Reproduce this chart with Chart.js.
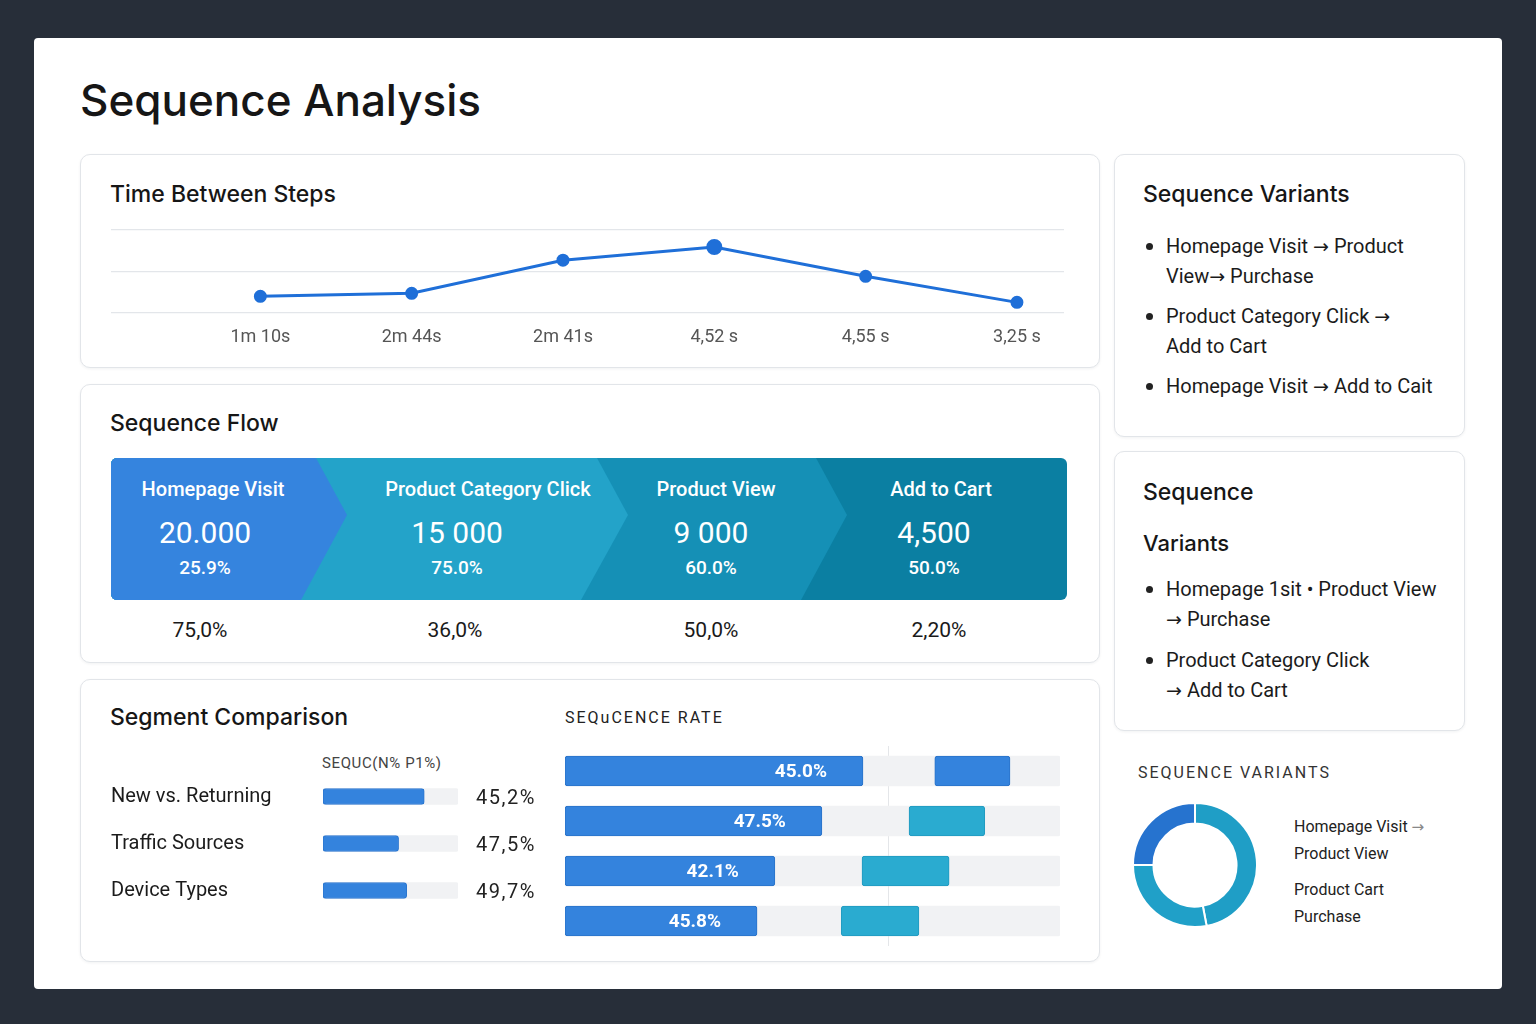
<!DOCTYPE html>
<html>
<head>
<meta charset="utf-8">
<title>Sequence Analysis</title>
<script src="https://cdn.jsdelivr.net/npm/chart.js@4.4.1/dist/chart.umd.min.js"></script>
<style>
  body { margin: 0; width: 1536px; height: 1024px; background: #272e39; position: relative; overflow: hidden;
         font-family: Roboto, "Noto Sans", sans-serif; color: #1b1b1b; }
  .abs { position: absolute; }
  .card { left: 34px; top: 38px; width: 1468px; height: 951px; background: #fff; border-radius: 4px; }
  .panel { background: #fff; border: 1px solid #e2e5e9; border-radius: 10px; box-sizing: border-box;
           box-shadow: 0 1px 3px rgba(20, 30, 50, 0.06); }
  .h { font-family: Inter, sans-serif; font-weight: 500; white-space: nowrap; color: #161616; }
  .caps { white-space: nowrap; letter-spacing: 2px; }
  .ar { font-family: "DejaVu Sans", sans-serif; font-size: 0.95em; line-height: 10px; }
  ul.list { list-style: none; margin: 0; padding: 0; font-size: 20px; line-height: 30px; color: #1b1b1b; }
  ul.list li { position: relative; padding-left: 23px; }
  ul.list li::before { content: ""; position: absolute; left: 3px; top: 12px; width: 7px; height: 7px;
                       border-radius: 50%; background: #222; }
  .flow { left: 111px; top: 458px; width: 956px; height: 142px; border-radius: 6px; overflow: hidden; }
  .blk { position: absolute; left: 0; top: 0; width: 100%; height: 100%; }
  .ftxt { position: absolute; transform: translateX(-50%); white-space: nowrap; color: #fff; font-weight: 500; text-align: center; }
  .conv { position: absolute; transform: translateX(-50%); white-space: nowrap; font-size: 21px; line-height: 26px; color: #1a1a1a; }
</style>
</head>
<body>
<div class="abs card"></div>
<div class="abs h" style="left:80px;top:74px;font-size:44px;line-height:52px;">Sequence Analysis</div>

<div class="abs panel" style="left:80px;top:154px;width:1020px;height:214px;"></div>
<div class="abs panel" style="left:80px;top:384px;width:1020px;height:279px;"></div>
<div class="abs panel" style="left:80px;top:679px;width:1020px;height:283px;"></div>
<div class="abs panel" style="left:1114px;top:154px;width:351px;height:283px;"></div>
<div class="abs panel" style="left:1114px;top:451px;width:351px;height:280px;"></div>

<div class="abs h" style="left:110px;top:180px;font-size:23px;line-height:28px;">Time Between Steps</div>
<div class="abs" style="left:111px;top:222px;"><canvas id="timeChart" width="953" height="140"></canvas></div>

<div class="abs h" style="left:110px;top:409px;font-size:23px;line-height:28px;">Sequence Flow</div>
<div class="abs flow" id="flow"></div>

<div class="abs h" style="left:110px;top:703px;font-size:23px;line-height:28px;">Segment Comparison</div>
<div class="abs caps" style="left:322px;top:754px;font-size:15px;line-height:18px;color:#444;letter-spacing:0.6px;">SEQUC(N% P1%)</div>
<div class="abs" style="left:111px;top:758px;"><canvas id="segChart" width="434" height="171"></canvas></div>

<div class="abs caps" style="left:565px;top:708px;font-size:16px;line-height:20px;color:#222;">SEQuCENCE RATE</div>
<div class="abs" style="left:565px;top:746px;"><canvas id="rateChart" width="495" height="200"></canvas></div>

<div class="abs h" style="left:1143px;top:180px;font-size:23px;line-height:28px;">Sequence Variants</div>
<ul class="abs list" style="left:1143px;top:231px;">
  <li>Homepage Visit <span class="ar">→</span> Product<br>View<span class="ar">→</span> Purchase</li>
  <li style="margin-top:10px;">Product Category Click <span class="ar">→</span><br>Add to Cart</li>
  <li style="margin-top:10px;">Homepage Visit <span class="ar">→</span> Add to Cait</li>
</ul>

<div class="abs h" style="left:1143px;top:478px;font-size:23px;line-height:28px;">Sequence</div>
<div class="abs h" style="left:1143px;top:530px;font-size:22px;line-height:26px;">Variants</div>
<ul class="abs list" style="left:1143px;top:574px;">
  <li>Homepage 1sit • Product View<br><span class="ar">→</span> Purchase</li>
  <li style="margin-top:11px;">Product Category Click<br><span class="ar">→</span> Add to Cart</li>
</ul>

<div class="abs caps" style="left:1138px;top:763px;font-size:16px;line-height:20px;color:#333;">SEQUENCE VARIANTS</div>
<div class="abs" style="left:1132px;top:802px;"><canvas id="donutChart" width="126" height="126"></canvas></div>
<div class="abs" style="left:1294px;top:813px;font-size:16px;line-height:27px;color:#222;white-space:nowrap;">
  Homepage Visit <span class="ar" style="color:#888">→</span><br>Product View
  <div style="margin-top:9px;">Product Cart<br>Purchase</div>
</div>

<script>
// values
const stepLabels = ["1m 10s", "2m 44s", "2m 41s", "4,52 s", "4,55 s", "3,25 s"];
const stepTimes = [1.17, 1.39, 3.80, 4.76, 2.63, 0.73];

const flowSteps = ["Homepage Visit", "Product Category Click", "Product View", "Add to Cart"];
const flowCounts = ["20.000", "15 000", "9 000", "4,500"];
const flowShares = ["25.9%", "75.0%", "60.0%", "50.0%"];
const flowConversions = ["75,0%", "36,0%", "50,0%", "2,20%"];

const segmentNames = ["New vs. Returning", "Traffic Sources", "Device Types"];
const segmentFill = [75, 56, 62];
const segmentRates = ["45,2%", "47,5%", "49,7%"];

const rateRows = ["Row 1", "Row 2", "Row 3", "Row 4"];
const rateValues = [60.2, 51.9, 42.4, 38.8];
const rateLabels = ["45.0%", "47.5%", "42.1%", "45.8%"];
const rateSecond = [[74.7, 89.9], [69.5, 84.8], [60.0, 77.6], [55.8, 71.5]];

const variantNames = ["Homepage Visit → Product View", "Product Cart Purchase", "Other"];
const variantShares = [47, 28, 25];

Chart.defaults.font.family = "Roboto, sans-serif";
Chart.defaults.animation = false;
Chart.defaults.plugins.legend.display = false;
Chart.defaults.plugins.tooltip.enabled = false;

// ---- sequence flow banner (chevrons) ----
const flowColors = ["#3584de", "#23a3c9", "#1590b6", "#0b7fa2"];
const flowCuts = [[205, 236, 190], [486, 517, 470], [705, 736, 690]]; // top, tip, bottom x of each chevron edge
const titleX = [213, 488, 716, 941];
const numX = [205, 457, 711, 934];
const convX = [200, 455, 711, 939];
const flow = document.getElementById("flow");
for (let i = flowSteps.length - 1; i >= 0; i--) {
  const b = document.createElement("div");
  b.className = "blk";
  b.style.background = flowColors[i];
  if (i < flowCuts.length) {
    const [t, p, btm] = flowCuts[i];
    b.style.clipPath = `polygon(0 0, ${t}px 0, ${p}px 57px, ${btm}px 142px, 0 142px)`;
  }
  flow.appendChild(b);
}
flowSteps.forEach((s, i) => {
  const add = (txt, x, top, size, lh, weight) => {
    const d = document.createElement("div");
    d.className = "ftxt";
    d.textContent = txt;
    Object.assign(d.style, { left: (x - 111) + "px", top: top + "px", fontSize: size + "px",
                             lineHeight: lh + "px", fontWeight: weight });
    flow.appendChild(d);
  };
  add(s, titleX[i], 19, 20, 24, 500);
  add(flowCounts[i], numX[i], 57, 30, 36, 400);
  add(flowShares[i], numX[i], 98, 19, 24, 500);
  const c = document.createElement("div");
  c.className = "conv";
  c.textContent = flowConversions[i];
  Object.assign(c.style, { left: convX[i] + "px", top: "617px" });
  document.body.appendChild(c);
});

// ---- time between steps ----
new Chart(document.getElementById("timeChart"), {
  type: "line",
  data: {
    datasets: [{
      data: stepTimes.map((v, i) => ({ x: i, y: v })),
      borderColor: "#1f6fd8", backgroundColor: "#1f6fd8",
      borderWidth: 3, tension: 0,
      pointRadius: ctx => (ctx.raw && ctx.raw.y === Math.max(...stepTimes) ? 6.5 : 5),
    }],
  },
  options: {
    responsive: false,
    layout: { autoPadding: false, padding: { top: 8, left: 0, right: 0, bottom: 0 } },
    scales: {
      x: {
        type: "linear", min: -0.987, max: 5.311,
        afterBuildTicks: s => { s.ticks = stepLabels.map((_, i) => ({ value: i })); },
        ticks: { autoSkip: false, maxRotation: 0, padding: 14, color: "#555", font: { size: 18 },
                 callback: v => stepLabels[v] },
        grid: { display: false, drawTicks: false },
        border: { display: false },
      },
      y: {
        min: 0, max: 6,
        ticks: { display: false, stepSize: 3 },
        grid: { color: "#e3e6ea", lineWidth: 1.2, drawTicks: false },
        border: { display: false },
      },
    },
  },
});

// ---- segment comparison ----
new Chart(document.getElementById("segChart"), {
  type: "bar",
  data: {
    labels: segmentNames,
    datasets: [
      { data: segmentFill, backgroundColor: "#3483dd", borderColor: "#2b76cf", borderWidth: 1,
        borderRadius: 3, borderSkipped: false, barThickness: 16, grouped: false },
      { data: segmentNames.map(() => 100), backgroundColor: "#f1f2f4", borderRadius: 2,
        barThickness: 16, grouped: false },
    ],
  },
  options: {
    indexAxis: "y",
    responsive: false,
    layout: { padding: { right: 87 } },
    scales: {
      x: { display: false, min: 0, max: 100 },
      y: {
        afterFit: s => { s.width = 212; },
        ticks: { crossAlign: "far", color: "#1b1b1b", font: { size: 20 } },
        grid: { display: false }, border: { display: false },
      },
    },
  },
  plugins: [{
    id: "segValues",
    afterDatasetsDraw(chart) {
      const { ctx, chartArea } = chart;
      ctx.save();
      ctx.font = "20px Roboto";
      ctx.letterSpacing = "1.5px";
      ctx.fillStyle = "#222";
      ctx.textBaseline = "middle";
      chart.getDatasetMeta(0).data.forEach((bar, i) => {
        ctx.fillText(segmentRates[i], chartArea.right + 18, bar.y + 2);
      });
      ctx.restore();
    },
  }],
});

// ---- sequence rate ----
new Chart(document.getElementById("rateChart"), {
  type: "bar",
  data: {
    labels: rateRows,
    datasets: [
      { data: rateValues, backgroundColor: "#3483dd", borderColor: "#2a73c9", borderWidth: 1,
        borderRadius: 3, borderSkipped: false, barThickness: 30, grouped: false },
      { data: rateSecond, backgroundColor: ["#3483dd", "#2aabd0", "#2aabd0", "#2aabd0"],
        borderColor: ["#2a73c9", "#229ac0", "#229ac0", "#229ac0"], borderWidth: 1,
        borderRadius: 3, borderSkipped: false, barThickness: 30, grouped: false },
      { data: rateRows.map(() => 100), backgroundColor: "#f1f2f4", borderRadius: 2,
        barThickness: 30, grouped: false },
    ],
  },
  options: {
    indexAxis: "y",
    responsive: false,
    scales: {
      x: {
        min: 0, max: 100,
        afterBuildTicks: s => { s.ticks = [{ value: 65.3 }]; },
        ticks: { display: false },
        grid: { color: "#e4e6e9", drawTicks: false },
        border: { display: false },
      },
      y: { display: false },
    },
  },
  plugins: [{
    id: "rateValues",
    afterDatasetsDraw(chart) {
      const { ctx } = chart;
      ctx.save();
      ctx.font = "bold 19px Roboto";
      ctx.fillStyle = "#fff";
      ctx.textAlign = "right";
      ctx.textBaseline = "middle";
      chart.getDatasetMeta(0).data.forEach((bar, i) => {
        ctx.fillText(rateLabels[i], bar.x - 36, bar.y + 1);
      });
      ctx.restore();
    },
  }],
});

// ---- sequence variants donut ----
new Chart(document.getElementById("donutChart"), {
  type: "doughnut",
  data: {
    labels: variantNames,
    datasets: [{
      data: variantShares,
      backgroundColor: ["#1f9ec6", "#20a0c8", "#2673cf"],
      borderColor: "#ffffff", borderWidth: 2,
    }],
  },
  options: { responsive: false, cutout: "67%" },
});
</script>
</body>
</html>
